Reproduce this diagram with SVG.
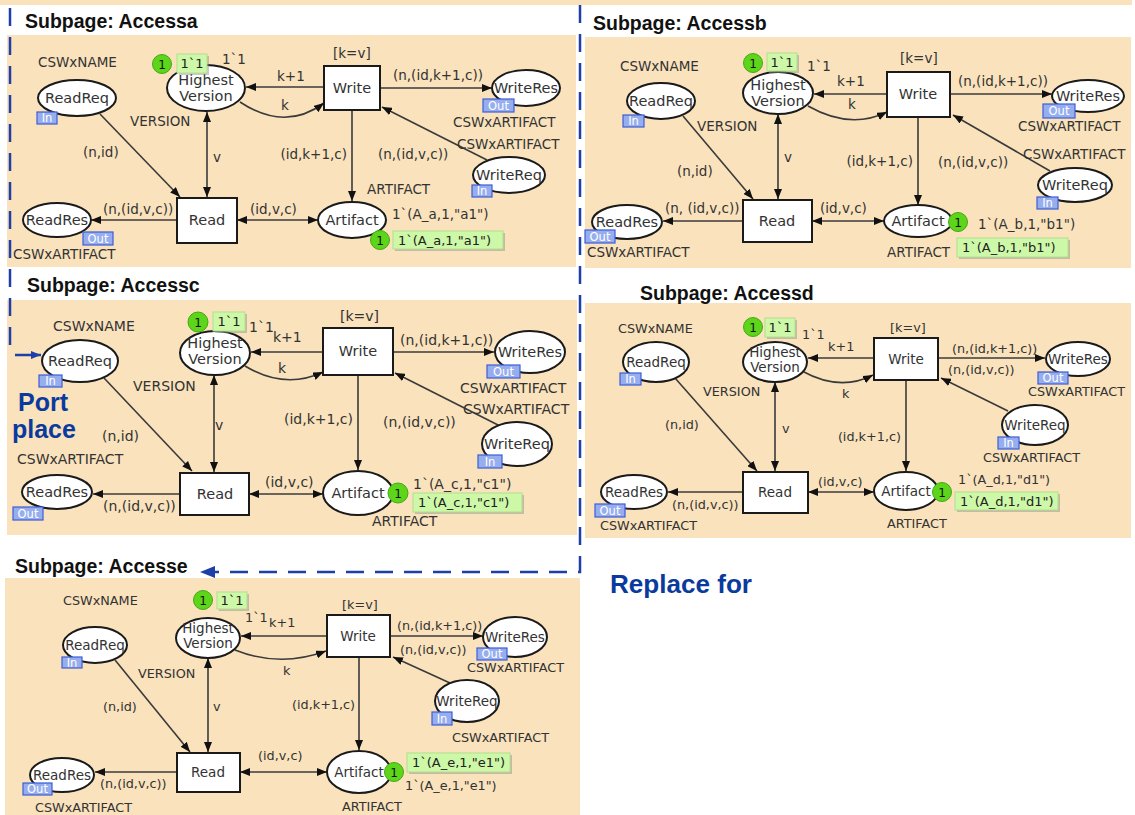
<svg xmlns="http://www.w3.org/2000/svg" width="1135" height="815" viewBox="0 0 1135 815">
<style>
.bg{fill:#F9E2BC}
.t{font-family:"Liberation Sans",Arial,sans-serif;font-weight:bold;font-size:19.5px;fill:#111}
.big{font-family:"Liberation Sans",Arial,sans-serif;font-weight:bold;font-size:25px;fill:#0B3A9E}
.p{fill:#fff;stroke:#1a1a1a;stroke-width:2}
.l{font-family:"DejaVu Sans",Verdana,sans-serif;fill:#333}
.n{font-family:"DejaVu Sans",Verdana,sans-serif;fill:#333;text-anchor:middle;font-size:14.5px}
.n2{font-family:"DejaVu Sans",Verdana,sans-serif;fill:#333;text-anchor:middle;font-size:13.5px}
.a{fill:none;stroke:#3a3a3a;stroke-width:1.6}
.e{marker-end:url(#ah)}
.b{marker-start:url(#ah);marker-end:url(#ah)}
.tk{fill:#5CD51A;stroke:#45A812;stroke-width:1}
.tkt{font-family:"DejaVu Sans",sans-serif;font-size:12px;fill:#111;text-anchor:middle}
.bx{fill:#CDF8A8;stroke:#B2DE8E;stroke-width:1}
.sh{fill:#8a8a8a;opacity:.45}
.bt{font-family:"DejaVu Sans",sans-serif;font-size:13px;fill:#222}
.pt{fill:#97AEEE;stroke:#3C5CD8;stroke-width:1.2}
.ptt{font-family:"DejaVu Sans",sans-serif;font-size:11.5px;fill:#fff;text-anchor:middle}
.d{fill:none;stroke:#1F3FA8;stroke-width:2.5;stroke-dasharray:18 11}
</style>
<defs>
<marker id="ah" viewBox="0 0 10 8" refX="10" refY="4" markerWidth="10" markerHeight="8" markerUnits="userSpaceOnUse" orient="auto-start-reverse"><path d="M0,0L10,4L0,8z" fill="#111"/></marker>
<marker id="bh" viewBox="0 0 10 8" refX="10" refY="4" markerWidth="10" markerHeight="8" markerUnits="userSpaceOnUse" orient="auto"><path d="M0,0L10,4L0,8z" fill="#1F3FA8"/></marker>
</defs>
<rect width="1135" height="815" fill="#fff"/>
<rect x="0" y="0" width="1132" height="5" class="bg"/>
<!-- backgrounds -->
<rect x="7" y="35" width="569" height="232" class="bg"/>
<rect x="585" y="37" width="546" height="231" class="bg"/>
<rect x="7" y="300" width="570" height="235" class="bg"/>
<rect x="585" y="303" width="546" height="235" class="bg"/>
<rect x="5" y="578" width="575" height="237" class="bg"/>
<text class="t" x="25" y="28">Subpage: Accessa</text>
<text class="t" x="593" y="30">Subpage: Accessb</text>
<text class="t" x="27" y="292">Subpage: Accessc</text>
<text class="t" x="640" y="300">Subpage: Accessd</text>
<text class="t" x="15" y="573">Subpage: Accesse</text>
<text class="big" x="18" y="411">Port</text>
<text class="big" x="12" y="438">place</text>
<text class="big" x="610" y="593" textLength="142" lengthAdjust="spacingAndGlyphs">Replace for</text>
<!-- dashed port boundary -->
<g id="port-boundary">
<path class="d" d="M10,8V348"/>
<path d="M15,355H41" stroke="#1F3FA8" stroke-width="2.5" marker-end="url(#bh)"/>
<path class="d" d="M580,5V572H212"/>
<polygon points="200,572 215,566 215,578" fill="#1F3FA8"/>
</g>
<g id="connectors">
<!-- A -->
<g font-size="13.5">
<path class="a e" d="M100,114L180,197"/>
<path class="a b" d="M207,112L207,197"/>
<path class="a e" d="M177,220L91,220"/>
<path class="a b" d="M237,220L318,220"/>
<path class="a e" d="M324,87L246,87"/>
<path class="a e" d="M240,102Q285,132 324,103"/>
<path class="a e" d="M380,88L492,88"/>
<path class="a e" d="M487,160L382,107"/>
<path class="a e" d="M352,110L352,201"/>
<text class="l" x="83" y="157">(n,id)</text>
<text class="l" x="213" y="162">v</text>
<text class="l" x="103" y="214">(n,(id,v,c))</text>
<text class="l" x="250" y="214">(id,v,c)</text>
<text class="l" x="277" y="81">k+1</text>
<text class="l" x="281" y="110">k</text>
<text class="l" x="393" y="80">(n,(id,k+1,c))</text>
<text class="l" x="378" y="159">(n,(id,v,c))</text>
<text class="l" x="347" y="159" text-anchor="end">(id,k+1,c)</text>
</g>
<!-- B -->
<g font-size="13.5">
<path class="a e" d="M683,116L753,199"/>
<path class="a b" d="M778,114L778,199"/>
<path class="a e" d="M743,221L663,221"/>
<path class="a b" d="M812,221L884,221"/>
<path class="a e" d="M887,94L814,94"/>
<path class="a e" d="M808,106Q850,130 887,112"/>
<path class="a e" d="M950,94L1052,94"/>
<path class="a e" d="M1050,171L953,115"/>
<path class="a e" d="M918,117L918,205"/>
<text class="l" x="677" y="176">(n,id)</text>
<text class="l" x="784" y="162">v</text>
<text class="l" x="665" y="213">(n, (id,v,c))</text>
<text class="l" x="820" y="213">(id,v,c)</text>
<text class="l" x="837" y="86">k+1</text>
<text class="l" x="848" y="109">k</text>
<text class="l" x="958" y="86">(n,(id,k+1,c))</text>
<text class="l" x="938" y="167">(n,(id,v,c))</text>
<text class="l" x="913" y="166" text-anchor="end">(id,k+1,c)</text>
</g>
<!-- C -->
<g font-size="14">
<path class="a e" d="M104,378L192,471"/>
<path class="a b" d="M214,375L214,472"/>
<path class="a e" d="M180,494L93,494"/>
<path class="a b" d="M249,494L323,494"/>
<path class="a e" d="M323,352L251,352"/>
<path class="a e" d="M245,366Q285,390 323,372"/>
<path class="a e" d="M393,352L494,352"/>
<path class="a e" d="M500,426L395,373"/>
<path class="a e" d="M358,375L358,470"/>
<text class="l" x="102" y="441">(n,id)</text>
<text class="l" x="215" y="430">v</text>
<text class="l" x="103" y="511">(n,(id,v,c))</text>
<text class="l" x="265" y="487">(id,v,c)</text>
<text class="l" x="273" y="342">k+1</text>
<text class="l" x="278" y="373">k</text>
<text class="l" x="400" y="345">(n,(id,k+1,c))</text>
<text class="l" x="383" y="427">(n,(id,v,c))</text>
<text class="l" x="353" y="424" text-anchor="end">(id,k+1,c)</text>
</g>
<!-- D -->
<g font-size="12.8">
<path class="a e" d="M675,378L757,471"/>
<path class="a b" d="M775,382L775,471"/>
<path class="a e" d="M743,492L668,492"/>
<path class="a b" d="M808,492L874,492"/>
<path class="a e" d="M874,358L808,358"/>
<path class="a e" d="M802,371Q840,392 873,375"/>
<path class="a e" d="M938,358L1045,358"/>
<path class="a e" d="M1008,411L941,378"/>
<path class="a e" d="M906,380L906,471"/>
<text class="l" x="665" y="429">(n,id)</text>
<text class="l" x="782" y="433">v</text>
<text class="l" x="672" y="509">(n,(id,v,c))</text>
<text class="l" x="818" y="486">(id,v,c)</text>
<text class="l" x="828" y="351">k+1</text>
<text class="l" x="842" y="398">k</text>
<text class="l" x="952" y="353">(n,(id,k+1,c))</text>
<text class="l" x="948" y="374">(n,(id,v,c))</text>
<text class="l" x="901" y="441" text-anchor="end">(id,k+1,c)</text>
</g>
<!-- E -->
<g font-size="12.8">
<path class="a e" d="M115,660L190,752"/>
<path class="a b" d="M208,658L208,752"/>
<path class="a e" d="M177,772L95,772"/>
<path class="a b" d="M240,772L327,772"/>
<path class="a e" d="M327,636L241,636"/>
<path class="a e" d="M235,650Q280,668 326,651"/>
<path class="a e" d="M390,636L483,636"/>
<path class="a e" d="M450,683L393,657"/>
<path class="a e" d="M359,657L359,750"/>
<text class="l" x="103" y="711">(n,id)</text>
<text class="l" x="213" y="711">v</text>
<text class="l" x="100" y="788">(n,(id,v,c))</text>
<text class="l" x="258" y="760">(id,v,c)</text>
<text class="l" x="269" y="627">k+1</text>
<text class="l" x="283" y="675">k</text>
<text class="l" x="397" y="630">(n,(id,k+1,c))</text>
<text class="l" x="400" y="654">(n,(id,v,c))</text>
<text class="l" x="292" y="709">(id,k+1,c)</text>
</g>
</g>

<!-- ===== Panel A nodes ===== -->
<g id="A" font-size="13.5">
<g id="a-readreq"><text class="l" x="38" y="67">CSWxNAME</text><ellipse class="p" cx="77" cy="98" rx="39" ry="18"/><text class="n" x="77" y="103">ReadReq</text><rect class="pt" x="37" y="112" width="20" height="12"/><text class="ptt" x="47" y="122">In</text></g>
<g id="a-hv"><ellipse class="p" cx="206" cy="88" rx="39" ry="23"/><text class="n" x="206" y="85">Highest</text><text class="n" x="206" y="101">Version</text><text class="l" x="130" y="126">VERSION</text><text class="l" x="222" y="64">1`1</text><circle class="tk" cx="162" cy="64" r="9.5"/><text class="tkt" x="162" y="68.5">1</text><rect class="sh" x="179" y="56" width="30" height="19"/><rect class="bx" x="177" y="54" width="30" height="19"/><text class="bt" x="192" y="68" text-anchor="middle">1`1</text></g>
<g id="a-readres"><ellipse class="p" cx="57" cy="220" rx="34" ry="17"/><text class="n" x="57" y="225">ReadRes</text><rect class="pt" x="83" y="232" width="30" height="13"/><text class="ptt" x="98" y="243">Out</text><text class="l" x="13" y="259">CSWxARTIFACT</text></g>
<g id="a-read"><rect class="p" x="177" y="198" width="60" height="45"/><text class="n" x="207" y="225">Read</text></g>
<g id="a-write"><rect class="p" x="324" y="66" width="56" height="44"/><text class="n" x="352" y="93">Write</text><text class="l" x="333" y="58">[k=v]</text></g>
<g id="a-writeres"><ellipse class="p" cx="526" cy="88" rx="34" ry="18"/><text class="n" x="526" y="93">WriteRes</text><rect class="pt" x="483" y="99" width="31" height="13"/><text class="ptt" x="498.5" y="110">Out</text><text class="l" x="453" y="127">CSWxARTIFACT</text></g>
<g id="a-writereq"><text class="l" x="457" y="149">CSWxARTIFACT</text><ellipse class="p" cx="509" cy="175" rx="36" ry="18"/><text class="n" x="509" y="180">WriteReq</text><rect class="pt" x="472" y="185" width="20" height="12"/><text class="ptt" x="482" y="195">In</text></g>
<g id="a-artifact"><ellipse class="p" cx="352" cy="220" rx="34" ry="18"/><text class="n" x="352" y="225">Artifact</text><text class="l" x="367" y="194">ARTIFACT</text><text class="l" x="392" y="219">1`(A_a,1,"a1")</text><circle class="tk" cx="380" cy="240" r="9.5"/><text class="tkt" x="380" y="244.5">1</text><rect class="sh" x="395" y="233" width="110" height="18"/><rect class="bx" x="393" y="231" width="110" height="18"/><text class="bt" x="398" y="245">1`(A_a,1,"a1")</text></g>
</g>

<!-- ===== Panel B nodes ===== -->
<g id="B" font-size="13.5">
<g id="b-readreq"><text class="l" x="620" y="71">CSWxNAME</text><ellipse class="p" cx="661" cy="101" rx="34" ry="18"/><text class="n" x="661" y="106">ReadReq</text><rect class="pt" x="623" y="115" width="21" height="12"/><text class="ptt" x="633.5" y="125">In</text></g>
<g id="b-hv"><ellipse class="p" cx="778" cy="93" rx="35" ry="21"/><text class="n" x="778" y="90">Highest</text><text class="n" x="778" y="106">Version</text><text class="l" x="697" y="131">VERSION</text><text class="l" x="807" y="71">1`1</text><circle class="tk" cx="753" cy="63" r="9.5"/><text class="tkt" x="753" y="67.5">1</text><rect class="sh" x="769" y="55" width="30" height="18"/><rect class="bx" x="767" y="53" width="30" height="18"/><text class="bt" x="782" y="67" text-anchor="middle">1`1</text></g>
<g id="b-readres"><ellipse class="p" cx="627" cy="222" rx="35" ry="17"/><text class="n" x="627" y="227">ReadRes</text><rect class="pt" x="585" y="230" width="30" height="13"/><text class="ptt" x="600" y="240.5">Out</text><text class="l" x="587" y="257">CSWxARTIFACT</text></g>
<g id="b-read"><rect class="p" x="743" y="200" width="69" height="42"/><text class="n" x="777" y="226">Read</text></g>
<g id="b-write"><rect class="p" x="887" y="72" width="63" height="45"/><text class="n" x="918" y="99">Write</text><text class="l" x="900" y="63">[k=v]</text></g>
<g id="b-writeres"><ellipse class="p" cx="1088" cy="96" rx="36" ry="16"/><text class="n" x="1088" y="101">WriteRes</text><rect class="pt" x="1043" y="104" width="32" height="14"/><text class="ptt" x="1059" y="115">Out</text><text class="l" x="1018" y="131">CSWxARTIFACT</text></g>
<g id="b-writereq"><text class="l" x="1023" y="159">CSWxARTIFACT</text><ellipse class="p" cx="1075" cy="185" rx="37" ry="17"/><text class="n" x="1075" y="190">WriteReq</text><rect class="pt" x="1037" y="197" width="21" height="12"/><text class="ptt" x="1047.5" y="207">In</text></g>
<g id="b-artifact"><ellipse class="p" cx="918" cy="221" rx="34" ry="16"/><text class="n" x="918" y="226">Artifact</text><text class="l" x="887" y="257">ARTIFACT</text><text class="l" x="978" y="229">1`(A_b,1,"b1")</text><circle class="tk" cx="958" cy="222" r="9.5"/><text class="tkt" x="958" y="226.5">1</text><rect class="sh" x="959" y="240" width="111" height="19"/><rect class="bx" x="957" y="238" width="111" height="19"/><text class="bt" x="962" y="252">1`(A_b,1,"b1")</text></g>
</g>

<!-- ===== Panel C nodes ===== -->
<g id="C" font-size="14">
<g id="c-readreq"><text class="l" x="53" y="331">CSWxNAME</text><ellipse class="p" cx="80" cy="361" rx="38" ry="21"/><text class="n" x="80" y="366">ReadReq</text><rect class="pt" x="39" y="375" width="23" height="12"/><text class="ptt" x="50.5" y="385">In</text></g>
<g id="c-hv"><ellipse class="p" cx="215" cy="353" rx="35" ry="22"/><text class="n" x="215" y="348">Highest</text><text class="n" x="215" y="364">Version</text><text class="l" x="133" y="391">VERSION</text><text class="l" x="249" y="332">1`1</text><circle class="tk" cx="198" cy="322" r="10"/><text class="tkt" x="198" y="326.5">1</text><rect class="sh" x="215" y="314" width="32" height="19"/><rect class="bx" x="213" y="312" width="32" height="19"/><text class="bt" x="229" y="326" text-anchor="middle">1`1</text></g>
<g id="c-readres"><text class="l" x="17" y="464">CSWxARTIFACT</text><ellipse class="p" cx="57" cy="492" rx="35" ry="17"/><text class="n" x="57" y="497">ReadRes</text><rect class="pt" x="13" y="507" width="30" height="13"/><text class="ptt" x="28" y="518">Out</text></g>
<g id="c-read"><rect class="p" x="180" y="473" width="69" height="42"/><text class="n" x="215" y="499">Read</text></g>
<g id="c-write"><rect class="p" x="323" y="328" width="70" height="47"/><text class="n" x="358" y="356">Write</text><text class="l" x="340" y="321">[k=v]</text></g>
<g id="c-writeres"><ellipse class="p" cx="530" cy="352" rx="35" ry="21"/><text class="n" x="530" y="357">WriteRes</text><rect class="pt" x="487" y="365" width="33" height="13"/><text class="ptt" x="503.5" y="376">Out</text><text class="l" x="460" y="393">CSWxARTIFACT</text></g>
<g id="c-writereq"><text class="l" x="463" y="414">CSWxARTIFACT</text><ellipse class="p" cx="517" cy="444" rx="35" ry="22"/><text class="n" x="517" y="449">WriteReq</text><rect class="pt" x="478" y="455" width="24" height="13"/><text class="ptt" x="490" y="466">In</text></g>
<g id="c-artifact"><ellipse class="p" cx="358" cy="493" rx="35" ry="22"/><text class="n" x="358" y="498">Artifact</text><text class="l" x="372" y="526">ARTIFACT</text><text class="l" x="413" y="489">1`(A_c,1,"c1")</text><circle class="tk" cx="398" cy="493" r="10"/><text class="tkt" x="398" y="497.5">1</text><rect class="sh" x="415" y="495" width="109" height="19"/><rect class="bx" x="413" y="493" width="109" height="19"/><text class="bt" x="418" y="507">1`(A_c,1,"c1")</text></g>
</g>

<!-- ===== Panel D nodes ===== -->
<g id="D" font-size="12.8">
<g id="d-readreq"><text class="l" x="618" y="333">CSWxNAME</text><ellipse class="p" cx="656" cy="362" rx="33" ry="20"/><text class="n2" x="656" y="367">ReadReq</text><rect class="pt" x="620" y="373" width="21" height="12"/><text class="ptt" x="630.5" y="383">In</text></g>
<g id="d-hv"><ellipse class="p" cx="775" cy="362" rx="32" ry="20"/><text class="n2" x="775" y="357">Highest</text><text class="n2" x="775" y="372">Version</text><text class="l" x="703" y="396">VERSION</text><text class="l" x="802" y="339">1`1</text><circle class="tk" cx="753" cy="327" r="9.5"/><text class="tkt" x="753" y="331.5">1</text><rect class="sh" x="767" y="320" width="30" height="19"/><rect class="bx" x="765" y="318" width="30" height="19"/><text class="bt" x="780" y="332" text-anchor="middle">1`1</text></g>
<g id="d-readres"><ellipse class="p" cx="634" cy="492" rx="33" ry="17"/><text class="n2" x="634" y="497">ReadRes</text><rect class="pt" x="595" y="504" width="30" height="13"/><text class="ptt" x="610" y="515">Out</text><text class="l" x="600" y="530">CSWxARTIFACT</text></g>
<g id="d-read"><rect class="p" x="743" y="472" width="65" height="41"/><text class="n2" x="775" y="497">Read</text></g>
<g id="d-write"><rect class="p" x="874" y="338" width="64" height="42"/><text class="n2" x="906" y="364">Write</text><text class="l" x="890" y="332">[k=v]</text></g>
<g id="d-writeres"><ellipse class="p" cx="1078" cy="359" rx="32" ry="17"/><text class="n2" x="1078" y="364">WriteRes</text><rect class="pt" x="1038" y="372" width="30" height="12"/><text class="ptt" x="1053" y="382">Out</text><text class="l" x="1028" y="396">CSWxARTIFACT</text></g>
<g id="d-writereq"><ellipse class="p" cx="1035" cy="425" rx="33" ry="20"/><text class="n2" x="1035" y="430">WriteReq</text><rect class="pt" x="998" y="437" width="21" height="12"/><text class="ptt" x="1008.5" y="447">In</text><text class="l" x="983" y="462">CSWxARTIFACT</text></g>
<g id="d-artifact"><ellipse class="p" cx="906" cy="491" rx="32" ry="19"/><text class="n2" x="906" y="496">Artifact</text><text class="l" x="887" y="528">ARTIFACT</text><text class="l" x="958" y="484">1`(A_d,1,"d1")</text><circle class="tk" cx="942" cy="492" r="9.5"/><text class="tkt" x="942" y="496.5">1</text><rect class="sh" x="957" y="494" width="103" height="18"/><rect class="bx" x="955" y="492" width="103" height="18"/><text class="bt" x="960" y="506">1`(A_d,1,"d1")</text></g>
</g>

<!-- ===== Panel E nodes ===== -->
<g id="E" font-size="12.8">
<g id="e-readreq"><text class="l" x="63" y="605">CSWxNAME</text><ellipse class="p" cx="95" cy="645" rx="32" ry="18"/><text class="n2" x="95" y="650">ReadReq</text><rect class="pt" x="62" y="657" width="20" height="11"/><text class="ptt" x="72" y="666.5">In</text></g>
<g id="e-hv"><ellipse class="p" cx="208" cy="638" rx="32" ry="20"/><text class="n2" x="208" y="633">Highest</text><text class="n2" x="208" y="648">Version</text><text class="l" x="138" y="678">VERSION</text><text class="l" x="245" y="622">1`1</text><circle class="tk" cx="203" cy="600" r="9.5"/><text class="tkt" x="203" y="604.5">1</text><rect class="sh" x="219" y="594" width="30" height="17"/><rect class="bx" x="217" y="592" width="30" height="17"/><text class="bt" x="232" y="605" text-anchor="middle">1`1</text></g>
<g id="e-readres"><ellipse class="p" cx="62" cy="775" rx="32" ry="17"/><text class="n2" x="62" y="780">ReadRes</text><rect class="pt" x="23" y="783" width="29" height="12"/><text class="ptt" x="37.5" y="793">Out</text><text class="l" x="35" y="812">CSWxARTIFACT</text></g>
<g id="e-read"><rect class="p" x="177" y="753" width="63" height="39"/><text class="n2" x="208" y="777">Read</text></g>
<g id="e-write"><rect class="p" x="327" y="615" width="63" height="42"/><text class="n2" x="358" y="641">Write</text><text class="l" x="342" y="609">[k=v]</text></g>
<g id="e-writeres"><ellipse class="p" cx="515" cy="637" rx="32" ry="20"/><text class="n2" x="515" y="642">WriteRes</text><rect class="pt" x="477" y="648" width="30" height="12"/><text class="ptt" x="492" y="658">Out</text><text class="l" x="467" y="672">CSWxARTIFACT</text></g>
<g id="e-writereq"><ellipse class="p" cx="467" cy="701" rx="32" ry="21"/><text class="n2" x="467" y="706">WriteReq</text><rect class="pt" x="432" y="712" width="20" height="13"/><text class="ptt" x="442" y="722.5">In</text><text class="l" x="452" y="742">CSWxARTIFACT</text></g>
<g id="e-artifact"><ellipse class="p" cx="359" cy="772" rx="32" ry="21"/><text class="n2" x="359" y="777">Artifact</text><text class="l" x="342" y="811">ARTIFACT</text><text class="l" x="405" y="790">1`(A_e,1,"e1")</text><circle class="tk" cx="394" cy="772" r="9.5"/><text class="tkt" x="394" y="776.5">1</text><rect class="sh" x="409" y="755" width="103" height="19"/><rect class="bx" x="407" y="753" width="103" height="19"/><text class="bt" x="412" y="767">1`(A_e,1,"e1")</text></g>
</g>
</svg>
